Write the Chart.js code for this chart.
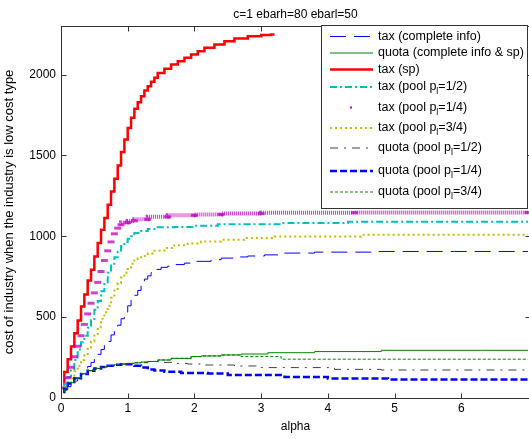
<!DOCTYPE html>
<html><head><meta charset="utf-8">
<script src="https://cdn.jsdelivr.net/npm/chart.js@4/dist/chart.umd.min.js"></script>
<style>
html,body{margin:0;padding:0;background:#fff;overflow:hidden;width:529px;height:439px}
#wrap{width:529px;height:439px;overflow:hidden;position:relative}
canvas{display:block}
</style></head>
<body><div id="wrap"><canvas id="c" width="540" height="439"></canvas></div>
<script>
const chartTitle = 'c=1 ebarh=80 ebarl=50';
const xTitle = 'alpha';
const yTitle = 'cost of industry when the industry is low cost type';
const seriesNames = [
  'tax (complete info)',
  'quota (complete info & sp)',
  'tax (sp)',
  'tax (pool p_l=1/2)',
  'tax (pool p_l=1/4)',
  'tax (pool p_l=3/4)',
  'quota (pool p_l=1/2)',
  'quota (pool p_l=1/4)',
  'quota (pool p_l=3/4)'
];
const xTickValues = [0,1,2,3,4,5,6];
const yTickValues = [0,500,1000,1500,2000];

// [alpha, cost]
const taxComplete = [[0.05,30],[0.1,50],[0.15,70],[0.2,88],[0.25,105],[0.3,120],[0.35,150],[0.4,173],[0.45,195],[0.5,220],[0.55,245],[0.6,270],[0.65,300],[0.7,325],[0.75,350],[0.8,390],[0.85,420],[0.9,450],[0.95,490],[1.0,530],[1.05,570],[1.1,605],[1.15,635],[1.2,665],[1.25,700],[1.3,735],[1.35,755],[1.4,775],[1.5,795],[1.6,808],[1.7,815],[1.85,825],[2.0,834],[2.25,845],[2.4,855],[2.6,865],[2.8,872],[3.05,878],[3.35,885],[3.8,896],[4.7,902],[5.9,906],[7,906]];
const quotaComplete = [[0.05,35],[0.1,60],[0.2,95],[0.3,125],[0.4,150],[0.5,170],[0.6,183],[0.7,193],[0.8,200],[0.9,206],[1.0,210],[1.1,214],[1.2,218],[1.3,222],[1.45,226],[1.65,235],[1.95,245],[2.1,256],[2.4,260],[2.7,266],[3.1,272],[3.8,280],[4.8,287],[6.3,295],[7,295]];
const taxSp = [[0.05,80],[0.1,160],[0.15,240],[0.2,318],[0.25,400],[0.3,479],[0.35,565],[0.4,640],[0.45,726],[0.5,793],[0.55,875],[0.6,958],[0.65,1040],[0.7,1113],[0.75,1195],[0.8,1277],[0.85,1356],[0.9,1438],[0.95,1521],[1.0,1598],[1.05,1670],[1.1,1732],[1.15,1788],[1.2,1829],[1.25,1866],[1.3,1901],[1.35,1928],[1.4,1955],[1.45,1980],[1.55,2010],[1.65,2035],[1.75,2062],[1.85,2082],[1.95,2103],[2.05,2124],[2.15,2144],[2.3,2165],[2.45,2185],[2.6,2205],[2.8,2222],[3.0,2237],[3.15,2245],[3.2,2248]];
const taxPoolHalf = [[0.05,50],[0.1,95],[0.15,130],[0.2,170],[0.25,235],[0.3,300],[0.35,345],[0.4,385],[0.45,435],[0.5,480],[0.55,545],[0.6,600],[0.65,660],[0.7,715],[0.75,775],[0.8,830],[0.85,870],[0.9,905],[0.95,940],[1.0,965],[1.05,985],[1.1,1000],[1.2,1020],[1.3,1033],[1.45,1045],[1.7,1055],[2.0,1058],[2.35,1065],[3.3,1075],[4.3,1082],[5.9,1090],[7,1090]];
const taxPoolQuarter = [[0.05,62],[0.1,125],[0.15,190],[0.2,255],[0.25,320],[0.3,385],[0.35,455],[0.4,520],[0.45,586],[0.5,650],[0.55,715],[0.6,782],[0.65,850],[0.7,910],[0.75,965],[0.8,1015],[0.85,1050],[0.9,1071],[1.0,1085],[1.1,1095],[1.3,1105],[1.6,1120],[2.0,1130],[2.4,1135],[3.0,1140],[4.4,1146],[7,1147]];
const taxPoolThreeQ = [[0.05,40],[0.1,70],[0.15,95],[0.2,120],[0.25,165],[0.3,200],[0.35,235],[0.4,265],[0.45,305],[0.5,350],[0.55,395],[0.6,440],[0.65,490],[0.7,530],[0.75,570],[0.8,620],[0.85,665],[0.9,710],[0.95,745],[1.0,775],[1.05,805],[1.1,830],[1.15,850],[1.2,862],[1.3,878],[1.4,893],[1.55,910],[1.7,927],[1.9,945],[2.1,955],[2.4,968],[2.75,978],[3.2,989],[4.5,999],[5.6,1009],[7,1009]];
const quotaPoolHalf = [[0.05,30],[0.1,55],[0.2,90],[0.3,122],[0.4,148],[0.5,168],[0.6,182],[0.7,192],[0.8,200],[0.9,205],[1.0,210],[1.1,212],[1.3,218],[1.5,225],[1.7,220],[1.9,214],[2.1,210],[2.6,204],[3.0,198],[4.1,188],[4.8,177],[7,173]];
const quotaPoolQuarter = [[0.05,30],[0.1,55],[0.2,90],[0.3,122],[0.4,148],[0.5,168],[0.6,182],[0.7,192],[0.8,200],[0.9,205],[1.0,208],[1.1,208],[1.2,200],[1.3,188],[1.4,176],[1.55,170],[1.8,163],[2.2,155],[2.5,152],[3.35,142],[4.0,130],[4.9,121],[6.25,115],[7,115]];
const quotaPoolThreeQ = [[0.05,35],[0.1,60],[0.2,95],[0.3,125],[0.4,150],[0.5,170],[0.6,183],[0.7,193],[0.8,200],[0.9,206],[1.0,210],[1.1,214],[1.2,218],[1.3,222],[1.45,226],[1.65,235],[1.95,245],[2.1,256],[2.4,260],[2.7,266],[3.3,256],[6.4,240],[7,240]];

const FONT = "'Liberation Sans', Arial, sans-serif";
const toXY = arr => arr.map(p => ({x: p[0], y: p[1]}));
const seriesData = [taxComplete, quotaComplete, taxSp, taxPoolHalf, taxPoolQuarter, taxPoolThreeQ, quotaPoolHalf, quotaPoolQuarter, quotaPoolThreeQ];
const styles = [
  {borderColor:'#0000ff', borderWidth:1, borderDash:[16,8]},
  {borderColor:'#008000', borderWidth:1, borderDash:[]},
  {borderColor:'#ff0000', borderWidth:2.5, borderDash:[]},
  {borderColor:'#00bfbf', borderWidth:2, borderDash:[7,3,2,3]},
  {borderColor:'#bf00bf', borderWidth:4, borderDash:[1,1], marker:true},
  {borderColor:'#bfbf00', borderWidth:2, borderDash:[2,3]},
  {borderColor:'#404040', borderWidth:1, borderDash:[8,6,2,6]},
  {borderColor:'#0000ff', borderWidth:2.5, borderDash:[7,3]},
  {borderColor:'#008000', borderWidth:1, borderDash:[3,2]}
];

const datasets = seriesData.map((d, i) => {
  const s = styles[i];
  const ds = {
    label: seriesNames[i],
    data: toXY(d),
    borderColor: s.borderColor,
    backgroundColor: s.borderColor,
    borderWidth: s.borderWidth,
    borderDash: s.borderDash,
    stepped: 'after',
    fill: false,
    pointRadius: 0,
    order: 9 - i
  };
  if (s.marker) {
    ds.pointRadius = 3.5;
    ds.pointStyle = 'line';
    ds.pointBorderColor = 'rgba(191,0,191,0.75)';
    ds.pointBorderWidth = 3;
    ds.borderColor = 'rgba(191,0,191,0.8)';
    ds.segment = {
      borderColor: c => ((c.p1.parsed.y - c.p0.parsed.y) / (c.p1.parsed.x - c.p0.parsed.x) > 400) ? 'rgba(0,0,0,0)' : 'rgba(191,0,191,0.8)'
    };
  }
  return ds;
});

const frameTicks = {
  id: 'frameTicks',
  afterDatasetsDraw(chart) {
    const {ctx, chartArea: a, scales: {x, y}} = chart;
    ctx.save();
    ctx.strokeStyle = '#333';
    ctx.lineWidth = 1;
    ctx.setLineDash([]);
    const L = Math.round(a.left) + 0.5, R = Math.round(a.right) + 0.5, T = Math.round(a.top) + 0.5, B = Math.round(a.bottom) + 0.5;
    ctx.strokeRect(L, T, R - L, B - T);
    ctx.beginPath();
    x.ticks.forEach(t => {
      const px = Math.round(x.getPixelForValue(t.value)) + 0.5;
      ctx.moveTo(px, B); ctx.lineTo(px, B - 5);
      ctx.moveTo(px, T); ctx.lineTo(px, T + 5);
    });
    y.ticks.forEach(t => {
      const py = Math.round(y.getPixelForValue(t.value)) + 0.5;
      ctx.moveTo(L, py); ctx.lineTo(L + 5, py);
      ctx.moveTo(R, py); ctx.lineTo(R - 5, py);
    });
    ctx.stroke();
    ctx.restore();
  }
};

function drawLabel(ctx, text, x, y) {
  const parts = text.split('_l');
  ctx.font = '12.5px ' + FONT;
  ctx.fillText(parts[0], x, y);
  if (parts.length > 1) {
    let w = ctx.measureText(parts[0]).width;
    ctx.font = '9px ' + FONT;
    ctx.fillText('l', x + w, y + 5);
    const w2 = ctx.measureText('l').width;
    ctx.font = '12.5px ' + FONT;
    ctx.fillText(parts[1], x + w + w2, y);
  }
}

const legendBox = {
  id: 'legendBox',
  afterDraw(chart) {
    const ctx = chart.ctx;
    const L = 321.5, T = 25.5, R = 527.5, B = 208.5;
    const rows = [36.5, 53, 69.5, 87, 107.5, 128, 148, 171, 192];
    ctx.save();
    ctx.fillStyle = '#fff';
    ctx.fillRect(L, T, R - L, B - T);
    ctx.strokeStyle = '#333';
    ctx.lineWidth = 1;
    ctx.setLineDash([]);
    ctx.strokeRect(L, T, R - L, B - T);
    chart.data.datasets.forEach((ds, i) => {
      const yy = rows[i];
      if (styles[i].marker) {
        ctx.fillStyle = styles[i].borderColor;
        ctx.fillRect(350, yy - 1, 2, 2);
      } else {
        ctx.strokeStyle = ds.borderColor;
        ctx.lineWidth = ds.borderWidth;
        ctx.setLineDash(ds.borderDash);
        ctx.beginPath();
        ctx.moveTo(330, yy);
        ctx.lineTo(373, yy);
        ctx.stroke();
      }
      ctx.fillStyle = '#000';
      ctx.textBaseline = 'middle';
      ctx.textAlign = 'left';
      drawLabel(ctx, seriesNames[i], 378, yy);
    });
    ctx.restore();
  }
};

new Chart(document.getElementById('c'), {
  type: 'line',
  data: {datasets},
  plugins: [frameTicks, legendBox],
  options: {
    responsive: false,
    animation: false,
    devicePixelRatio: 1,
    layout: {padding: {left: 0, right: 10, top: 0, bottom: 0}},
    font: {family: FONT},
    plugins: {
      legend: {display: false},
      tooltip: {enabled: false},
      title: {display: true, fullSize: false, text: chartTitle, color: '#000', font: {family: FONT, size: 12, weight: 'normal'}, padding: {top: 7, bottom: 4.6}}
    },
    scales: {
      x: {
        type: 'linear', min: 0, max: 7.03,
        grid: {display: false, drawTicks: false, tickLength: 0},
        border: {display: false},
        afterBuildTicks: s => { s.ticks = xTickValues.map(v => ({value: v})); },
        afterFit: s => { s.height = 41; },
        ticks: {color: '#000', font: {family: FONT, size: 12}, padding: 3, maxRotation: 0, autoSkip: false, callback: v => String(v)},
        title: {display: true, text: xTitle, color: '#000', font: {family: FONT, size: 12}, padding: {top: 0, bottom: 5}}
      },
      y: {
        type: 'linear', min: 0, max: 2300,
        grid: {display: false, drawTicks: false, tickLength: 0},
        border: {display: false},
        afterBuildTicks: s => { s.ticks = yTickValues.map(v => ({value: v})); },
        afterFit: s => { s.width = 61; },
        ticks: {color: '#000', font: {family: FONT, size: 12}, padding: 5, autoSkip: false, callback: v => String(v)},
        title: {display: true, text: yTitle, color: '#000', font: {family: FONT, size: 13}, padding: {top: 2, bottom: 0}}
      }
    }
  }
});
</script>
</body></html>
